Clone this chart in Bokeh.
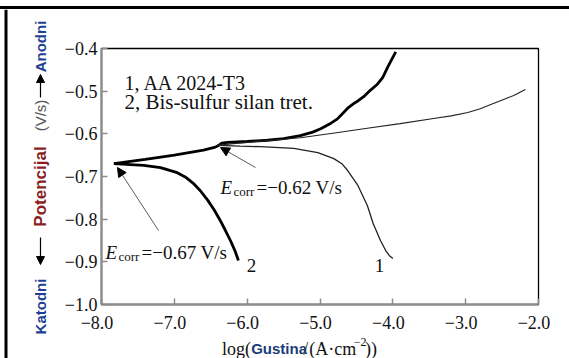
import math
from bokeh.plotting import figure
from bokeh.layouts import row, column
from bokeh.models import (Range1d, FixedTicker, CustomJSTickFormatter, Label, Arrow, NormalHead,
                          BoxAnnotation)
from bokeh.embed import file_html
from bokeh.resources import INLINE

# ---------------- data ----------------
# curve 2 (Bis-sulfur silan tret.), thick line
c2_anodic_x = [-7.83, -7.4, -7.0, -6.6, -6.45, -6.40, -6.35, -6.27, -6.0, -5.72, -5.5, -5.27,
               -5.1, -4.99, -4.85, -4.76, -4.62, -4.52, -4.48, -4.40, -4.31, -4.22, -4.14, -4.06, -3.96]
c2_anodic_y = [-0.670, -0.660, -0.650, -0.638, -0.632, -0.628, -0.622, -0.620, -0.618, -0.615, -0.611, -0.604,
               -0.596, -0.588, -0.575, -0.565, -0.540, -0.527, -0.523, -0.513, -0.498, -0.485, -0.468, -0.440, -0.408]
c2_cathodic_x = [-7.83, -7.6, -7.42, -7.19, -6.96, -6.85, -6.74, -6.64, -6.54, -6.45, -6.37, -6.30, -6.23, -6.17, -6.12]
c2_cathodic_y = [-0.670, -0.672, -0.674, -0.679, -0.691, -0.701, -0.716, -0.734, -0.756, -0.779, -0.803, -0.826, -0.850, -0.873, -0.897]

# curve 1 (AA 2024-T3), thin line
c1_anodic_x = [-6.41, -6.19, -5.8, -5.27, -4.8, -4.35, -3.9, -3.44, -3.2, -2.97, -2.8, -2.62, -2.47, -2.34, -2.18]
c1_anodic_y = [-0.627, -0.623, -0.617, -0.609, -0.598, -0.587, -0.576, -0.564, -0.558, -0.550, -0.541, -0.529, -0.519, -0.510, -0.496]
c1_cathodic_x = [-6.41, -6.1, -5.82, -5.36, -5.03, -4.81, -4.70, -4.62, -4.48, -4.35, -4.27, -4.17, -4.10, -4.05, -4.0]
c1_cathodic_y = [-0.627, -0.629, -0.630, -0.634, -0.644, -0.658, -0.670, -0.686, -0.721, -0.768, -0.810, -0.850, -0.873, -0.885, -0.892]

x_ticks = [-8.0, -7.0, -6.0, -5.0, -4.0, -3.0, -2.0]
y_ticks = [-1.0, -0.9, -0.8, -0.7, -0.6, -0.5, -0.4]

legend_lines = ["1, AA 2024-T3", "2, Bis-sulfur silan tret."]
ecorr_1 = "=\u22120.62 V/s"
ecorr_2 = "=\u22120.67 V/s"

# ---------------- layout (page pixels; bokeh page has no margin) ----------------
X0, X1 = -8.0, -2.0
Y0, Y1 = -1.0, -0.4
PAGE_W, PAGE_H = 569, 358
TOP_GAP, TOP_BORDER = 6, 3        # outer black border at the top (y 6..9)
YL_W = 58                         # y-label strip (holds the left black border)
MAIN_X, MAIN_Y = YL_W, TOP_GAP + TOP_BORDER
MAIN_W = PAGE_W - MAIN_X          # 511
MAIN_B = 336                      # bottom of the main figure
MAIN_H = MAIN_B - MAIN_Y
XL_H = PAGE_H - MAIN_B
FL, FT, FR, FB = 101, 48, 538, 304   # frame edges in page pixels

SERIF = "Liberation Serif"
SANS = "Liberation Sans"


def fx(px):
    return X0 + (px - FL) / (FR - FL) * (X1 - X0)


def fy(py):
    return Y1 - (py - FT) / (FB - FT) * (Y1 - Y0)


def blank(w, h, xr, yr, fill="white"):
    f = figure(width=w, height=h, x_range=xr, y_range=yr, output_backend="svg",
               toolbar_location=None, x_axis_location=None, y_axis_location=None,
               min_border=0)
    f.grid.visible = False
    f.outline_line_color = None
    f.background_fill_color = fill
    f.border_fill_color = fill
    return f


def lab(fig, x, y, text, size, font=SERIF, style="normal", color="#111111", align="left",
        baseline="alphabetic", angle=0.0):
    fig.add_layout(Label(x=x, y=y, text=text, text_font=font, text_font_size=size,
                         text_font_style=style, text_color=color, text_align=align,
                         text_baseline=baseline, angle=angle))


# ---------------- main plot ----------------
p = figure(width=MAIN_W, height=MAIN_H, x_range=Range1d(X0, X1), y_range=Range1d(Y0, Y1),
           output_backend="svg", toolbar_location=None,
           min_border_left=FL - MAIN_X, min_border_right=PAGE_W - FR,
           min_border_top=FT - MAIN_Y, min_border_bottom=MAIN_B - FB)
p.background_fill_color = "white"
p.border_fill_color = "white"
p.outline_line_color = "black"
p.outline_line_width = 1.3
p.grid.visible = False

fmt = CustomJSTickFormatter(code="return (tick < 0 ? '\\u2212' : '') + Math.abs(tick).toFixed(1);")
fmt_x = CustomJSTickFormatter(code="return (tick < 0 ? '\\u2212' : '') + Math.abs(tick).toFixed(1) + '\\u2002';")
for ax, ticks, standoff, f in ((p.xaxis[0], x_ticks, 8, fmt_x), (p.yaxis[0], y_ticks, 4, fmt)):
    ax.ticker = FixedTicker(ticks=ticks)
    ax.formatter = f
    ax.axis_line_color = "#8c8c8c"
    ax.axis_line_width = 2.2
    ax.major_tick_line_color = "#8c8c8c"
    ax.major_tick_line_width = 1.5
    ax.major_tick_in = 6
    ax.major_tick_out = 0
    ax.minor_tick_line_color = None
    ax.major_label_text_font = SERIF
    ax.major_label_text_font_size = "18px"
    ax.major_label_text_color = "#111111"
    ax.major_label_standoff = standoff

# curves
p.line(c2_anodic_x, c2_anodic_y, line_width=2.8, line_color="black")
p.line(c2_cathodic_x, c2_cathodic_y, line_width=2.8, line_color="black")
p.line(c1_anodic_x, c1_anodic_y, line_width=1.1, line_color="#222222")
p.line(c1_cathodic_x, c1_cathodic_y, line_width=1.3, line_color="#222222")

# legend text
lab(p, fx(124), fy(82), legend_lines[0], "20px")
lab(p, fx(124), fy(101), legend_lines[1], "21px")

# E_corr labels
lab(p, fx(220), fy(187), "E", "19px", style="italic")
lab(p, fx(233), fy(191), "corr", "13px")
lab(p, fx(256), fy(187), ecorr_1, "19px")
lab(p, fx(105), fy(252), "E", "19px", style="italic")
lab(p, fx(118), fy(256), "corr", "13px")
lab(p, fx(141), fy(252), ecorr_2, "19px")

# curve numbers
lab(p, fx(379), fy(265), "1", "19px", align="center")
lab(p, fx(251), fy(265), "2", "19px", align="center")

# E_corr arrows
p.add_layout(Arrow(end=NormalHead(size=9, fill_color="black", line_color="black"),
                   x_start=fx(255), y_start=fy(167), x_end=fx(220), y_end=fy(147),
                   line_width=0.8, line_color="#333333"))
p.add_layout(Arrow(end=NormalHead(size=9, fill_color="black", line_color="black"),
                   x_start=fx(158), y_start=fy(230), x_end=fx(117), y_end=fy(167),
                   line_width=0.8, line_color="#333333"))

# ---------------- x-axis label strip (coordinates = page pixels) ----------------
xl = blank(MAIN_W, XL_H, Range1d(MAIN_X, PAGE_W), Range1d(PAGE_H, MAIN_B))
XB = 348
lab(xl, 199, XB, "log(", "18px")
lab(xl, 233, XB, "Gustina", "15px", font=SANS, style="bold", color="#1c3d7a")
lab(xl, 294, XB, "/", "18px", color="#333333")
lab(xl, 301, XB, "(A\u00b7cm", "18px")
lab(xl, 353, XB - 7, "\u22122", "12px")
lab(xl, 366, XB, "))", "18px")

# ---------------- y-axis label strip (coordinates = page pixels) ----------------
yl = blank(YL_W, PAGE_H - MAIN_Y, Range1d(0, YL_W), Range1d(PAGE_H, MAIN_Y))
yl.add_layout(BoxAnnotation(left=4, right=7, top=MAIN_Y, bottom=PAGE_H, fill_color="black",
                            fill_alpha=1.0, line_color=None))
YC = 40
lab(yl, YC, 306, "Katodni", "15px", font=SANS, style="bold", color="#1e3f95", align="center",
    baseline="middle", angle=math.pi / 2)
lab(yl, YC, 186, "Potencijal", "17px", font=SANS, style="bold", color="#8a1f1f", align="center",
    baseline="middle", angle=math.pi / 2)
lab(yl, YC, 115, "(V/s)", "15px", font=SANS, color="#555555", align="center",
    baseline="middle", angle=math.pi / 2)
lab(yl, YC, 46, "Anodni", "15px", font=SANS, style="bold", color="#1e3f95", align="center",
    baseline="middle", angle=math.pi / 2)
yl.add_layout(Arrow(end=NormalHead(size=8, fill_color="black", line_color="black"),
                    x_start=YC, y_start=97, x_end=YC, y_end=74,
                    line_width=1.2, line_color="black"))
yl.add_layout(Arrow(end=NormalHead(size=8, fill_color="black", line_color="black"),
                    x_start=YC, y_start=237, x_end=YC, y_end=264,
                    line_width=1.2, line_color="black"))

layout = row(yl, column(p, xl, spacing=0), spacing=0,
             styles={"margin-top": f"{TOP_GAP}px", "border-top": f"{TOP_BORDER}px solid black"})

open("out.html", "w").write(file_html(layout, INLINE))
